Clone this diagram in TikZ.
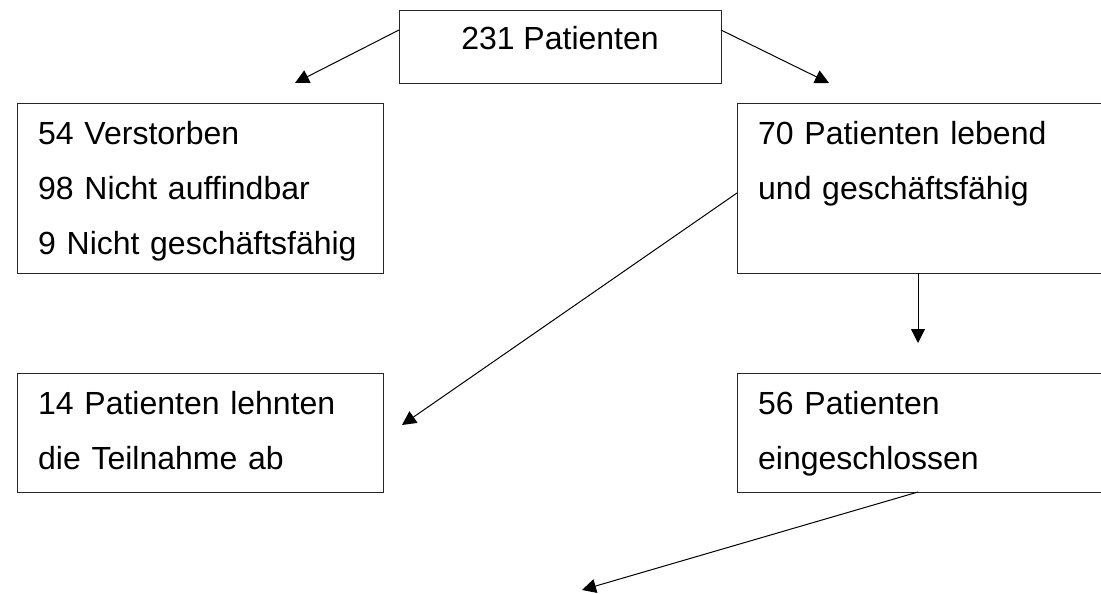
\documentclass[tikz,border=0pt]{standalone}
\usepackage{fontspec}
\setmainfont{Liberation Sans}
\usetikzlibrary{arrows.meta}
\begin{document}
\begin{tikzpicture}[x=1pt,y=-1pt,
  box/.style={draw=black!85, line width=1.2pt, inner sep=0pt, anchor=north west},
  txt/.style={inner sep=0pt, anchor=base west, align=left, text width=340pt,
              font=\fontsize{32}{55.2}\selectfont},
  ctxt/.style={inner sep=0pt, anchor=base, font=\fontsize{32}{55.2}\selectfont},
  conn/.style={line width=1pt, -{Triangle[length=14pt,width=14pt]}}]
\clip (0,0) rectangle (1101,594);
% boxes
\node[box, minimum width=322pt, minimum height=73pt]  (top) at (399,10) {};
\node[box, minimum width=366pt, minimum height=170pt] (dead) at (17,103) {};
\node[box, minimum width=370pt, minimum height=170pt] (alive) at (737,103) {};
\node[box, minimum width=366pt, minimum height=119pt] (refused) at (17,373) {};
\node[box, minimum width=370pt, minimum height=119pt] (incl) at (737,373) {};
% texts
\node[ctxt] (ttop) at (560,50) {231 Patienten};
\node[txt] (tdead) at (38,144) {54 Verstorben\\98 Nicht auffindbar\\9 Nicht geschäftsfähig};
\node[txt] (talive) at (758,144) {70 Patienten lebend\\und geschäftsfähig};
\node[txt] (trefused) at (38,414) {14 Patienten lehnten\\die Teilnahme ab};
\node[txt] (tincl) at (758,414) {56 Patienten\\eingeschlossen};
% connector end points
\coordinate (s1) at (399,30);
\coordinate (e1) at (295,83);
\coordinate (s2) at (721,30);
\coordinate (e2) at (829,83);
\coordinate (s3) at (737,193);
\coordinate (e3) at (402,425);
\coordinate (s4) at (918,273);
\coordinate (e4) at (918,343);
\coordinate (s5) at (918,492);
\coordinate (e5) at (582,590);
\draw[conn] (s1) -- (e1);
\draw[conn] (s2) -- (e2);
\draw[conn] (s3) -- (e3);
\draw[conn] (s4) -- (e4);
\draw[conn] (s5) -- (e5);
\end{tikzpicture}
\end{document}
